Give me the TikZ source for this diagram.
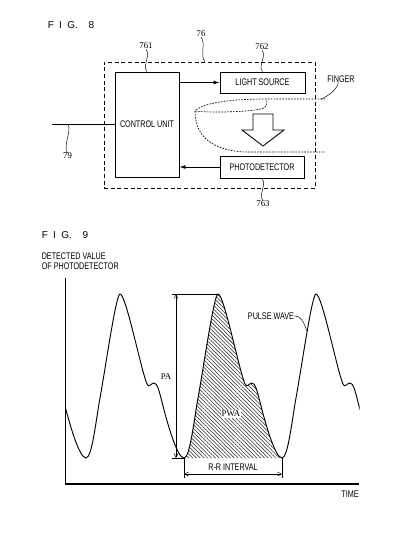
\documentclass[tikz,border=0pt]{standalone}
\usepackage{fontspec}
\newfontfamily\labelfont[FakeStretch=0.75]{Liberation Sans}
\newfontfamily\figfont{Liberation Sans}
\newfontfamily\numfont{Liberation Serif}
\usetikzlibrary{arrows.meta,patterns.meta}

% one period of the pulse wave, from minimum to minimum
\newcommand{\pulseperiod}{(0,458) .. controls (6,458) and (10,420) .. (14,398) .. controls (20,365) and (30,294) .. (34,294) .. controls (40,294) and (55,370) .. (61,384) .. controls (63,388.5) and (65,383) .. (68,383) .. controls (71,383) and (73,390) .. (76,402) .. controls (81,422) and (91,458) .. (98,458)}

\tikzset{
  box/.style={draw, line width=0.65pt, font=\labelfont\fontsize{7.2}{8}\selectfont, inner sep=0pt},
  lbl/.style={font=\labelfont\fontsize{7.2}{7.5}\selectfont, inner sep=0pt},
  num/.style={font=\numfont\fontsize{6.6}{7}\selectfont, inner sep=0pt},
  figlbl/.style={font=\figfont\fontsize{7.5}{8}\selectfont, inner sep=0pt, anchor=west},
  leader/.style={line width=0.35pt},
  sig/.style={line width=0.65pt, -{Latex[length=4.5pt,width=3pt]}},
  dim/.style={line width=0.35pt, {Straight Barb[length=3pt,width=3pt]}-{Straight Barb[length=3pt,width=3pt]}},
  finger/.style={line width=0.5pt, dash pattern=on 1.2pt off 1pt},
  pulse/.style={line width=0.7pt},
  hatch/.style={pattern={Lines[angle=-45,distance=2pt,line width=0.4pt]}, pattern color=black!85},
}

\begin{document}
\begin{tikzpicture}[x=0.75pt,y=0.75pt,yscale=-1,xscale=1]
\useasboundingbox (0,0) rectangle (417,533);

%%%%% FIG. 8
\node[figlbl] (fig8) at (47.5,25) {F\hspace{4pt}I\hspace{4pt}G.\hspace{8pt}8};

% device frame and blocks
\node[draw, line width=0.5pt, dash pattern=on 3pt off 2pt, minimum width=158.25pt, minimum height=94.5pt] (dev) at (209.5,125) {};
\node[box, minimum width=48pt, minimum height=78.75pt] (cu) at (147,124.5) {CONTROL UNIT};
\node[box, minimum width=63.75pt, minimum height=15.75pt] (ls) at (262.5,82.5) {LIGHT SOURCE};
\node[box, minimum width=63pt, minimum height=16.5pt] (pd) at (262,167) {PHOTODETECTOR};

% reference numerals
\node[num] (n76) at (201,34) {76};
\node[num] (n761) at (146,46) {761};
\node[num] (n762) at (262,47) {762};
\node[num] (n763) at (263,204) {763};
\node[num] (n79) at (67.5,156) {79};

\draw[leader] (n76.south) .. controls +(5,6) and +(-5,-6) .. ([xshift=-3.5pt]dev.north);
\draw[leader] (n761.south) .. controls +(5,6) and +(-5,-6) .. (cu.north);
\draw[leader] (n762.south) .. controls +(5,6) and +(-5,-6) .. (ls.north);
\draw[leader] (n763.north) .. controls +(-5,-6) and +(5,6) .. (pd.south);

% signal lines
\coordinate (in79) at (52,124.5);
\coordinate (c79) at (68,124.5);
\draw[line width=0.8pt] (in79) -- (cu.west);
\draw[leader] (n79.north) .. controls +(-5,-6) and +(4,6) .. (c79);
\draw[sig] (cu.east |- ls.west) -- (ls.west);
\draw[sig] (pd.west) -- (pd.west -| cu.east);

% finger
\coordinate (fgTop) at (325,99);
\coordinate (fgBot) at (325,152);
\coordinate (fgLead) at (321,99);
\draw[finger] (fgTop) -- (267,99) .. controls (240,99) and (205,101) .. (195,111);
\draw[finger] (195,111) .. controls (210,113) and (255,112) .. (264,108) .. controls (267,106) and (267,102) .. (267,99);
\draw[finger] (195,111) .. controls (195,130) and (205,150) .. (245,152) -- (fgBot);
\node[lbl] (nFinger) at (341,79) {FINGER};
\draw[leader] ([xshift=-2pt]nFinger.south) .. controls +(-1,6) and +(8,-3) .. (fgLead);

% light path arrow
\draw[line width=0.65pt] (253,114) -- (273,114) -- (273,130) -- (284,130) -- (263,146) -- (242,130) -- (253,130) -- cycle;

%%%%% FIG. 9
\node[figlbl] (fig9) at (41.5,235.5) {F\hspace{4pt}I\hspace{4pt}G.\hspace{8pt}9};
\node[lbl, anchor=west, align=left] (ylab) at (41.5,261) {DETECTED VALUE\\OF PHOTODETECTOR};

% axes
\coordinate (org) at (65,484);
\coordinate (yEnd) at (65,278);
\coordinate (xEnd) at (359,484);
\draw[line width=0.7pt] (yEnd) -- (org);
\draw[line width=0.95pt] (org) -- (xEnd);
\node[lbl] (time) at (350,494.5) {TIME};

% pulse wave area
\fill[hatch, shift={(184,0)}] \pulseperiod -- cycle;

% pulse wave
\begin{scope}
\clip (65,250) rectangle (359.5,470);
\foreach \m in {-12,86,184,282}
  \draw[pulse, shift={(\m,0)}] \pulseperiod;
\end{scope}

% amplitude and interval
\coordinate (pk) at (218,294);
\coordinate (mnA) at (184,458);
\coordinate (mnB) at (282,458);
\coordinate (paTop) at (172,294);
\coordinate (paBot) at (172,458);
\coordinate (paA) at (176,294);
\coordinate (paB) at (176,458);
\coordinate (rrA) at (184,474);
\coordinate (rrB) at (282,474);
\draw[leader] (pk) -- (paTop);
\draw[leader] (mnA) -- (paBot);
\draw[dim] (paA) -- (paB);
\draw[leader] (mnA) -- ++(0,20);
\draw[leader] (mnB) -- ++(0,20);
\draw[dim] (rrA) -- (rrB);

\node[num] (pa) at (166,377) {PA};
\node[num, fill=white, inner sep=0.6pt] (pwa) at (231,414) {PWA};
\node[lbl] (rr) at (233,467.5) {R-R INTERVAL};

\node[lbl] (pw) at (271,316) {PULSE WAVE};
\coordinate (pwPt) at (307,331);
\draw[leader] (pw.east) .. controls +(8,0) and +(-3,-7) .. (pwPt);

\end{tikzpicture}
\end{document}
